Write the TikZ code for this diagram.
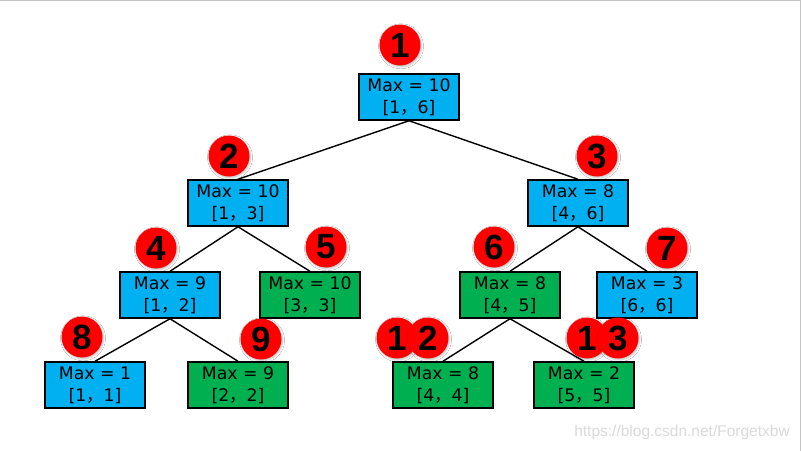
\documentclass[tikz,border=0pt]{standalone}
\usepackage{fontspec}
\setmainfont{Liberation Sans}
\newfontfamily\boxfont{DejaVu Sans}
\newfontfamily\cjk{Noto Sans CJK SC}
\newcommand{\fwc}{{\cjk ，}}
\usetikzlibrary{shadows.blur}
\definecolor{boxblue}{HTML}{00B0F0}
\definecolor{boxgreen}{HTML}{00B050}
\definecolor{badgered}{HTML}{FF0000}
\definecolor{wmgray}{HTML}{DADADA}
\definecolor{edgegray}{HTML}{C4C4C4}
\begin{document}
\begin{tikzpicture}[x=1pt,y=-1pt,
  segbox/.style={draw=black, line width=2pt, minimum width=100pt, minimum height=45.5pt,
    inner sep=0pt, align=center, font=\boxfont\fontsize{17.3}{22}\selectfont},
  bluebox/.style={segbox, fill=boxblue},
  greenbox/.style={segbox, fill=boxgreen},
  badge/.style={circle, fill=badgered, minimum size=41pt, inner sep=0pt,
    font=\fontsize{35}{35}\selectfont\bfseries,
    blur shadow={shadow xshift=1pt, shadow yshift=-1.3pt, shadow blur radius=2pt, shadow opacity=25}},
  link/.style={draw=black, line width=1.4pt},
  watermark/.style={text=wmgray, font=\fontsize{15.5}{17}\selectfont, inner sep=0pt},
  frameline/.style={draw=edgegray, line width=1.2pt}
]
\useasboundingbox (0,0) rectangle (801,451);
\fill[white] (0,0) rectangle (801,451);
\coordinate (tl) at (0,0.6);
\coordinate (tr) at (800.2,0.6);
\coordinate (br) at (800.2,451);
\draw[frameline] (tl) -- (tr) -- (br);

% boxes
\node[bluebox]  (n1)  at (409,97)  {Max = 10\\{[1\fwc 6]}};
\node[bluebox]  (n2)  at (238,203) {Max = 10\\{[1\fwc 3]}};
\node[bluebox]  (n3)  at (578,203) {Max = 8\\{[4\fwc 6]}};
\node[bluebox]  (n4)  at (170,295) {Max = 9\\{[1\fwc 2]}};
\node[greenbox] (n5)  at (310,295) {Max = 10\\{[3\fwc 3]}};
\node[greenbox] (n6)  at (510,295) {Max = 8\\{[4\fwc 5]}};
\node[bluebox]  (n7)  at (647,295) {Max = 3\\{[6\fwc 6]}};
\node[bluebox]  (n8)  at (95,385)  {Max = 1\\{[1\fwc 1]}};
\node[greenbox] (n9)  at (238,385) {Max = 9\\{[2\fwc 2]}};
\node[greenbox] (n12) at (443,385) {Max = 8\\{[4\fwc 4]}};
\node[greenbox] (n13) at (584,385) {Max = 2\\{[5\fwc 5]}};

% edges
\draw[link] (n1.south) -- (n2.north);
\draw[link] (n1.south) -- (n3.north);
\draw[link] (n2.south) -- (n4.north);
\draw[link] (n2.south) -- (n5.north);
\draw[link] (n3.south) -- (n6.north);
\draw[link] (n3.south) -- (n7.north);
\draw[link] (n4.south) -- (n8.north);
\draw[link] (n4.south) -- (n9.north);
\draw[link] (n6.south) -- (n12.north);
\draw[link] (n6.south) -- (n13.north);

% badges
\node[badge] (b1)  at (400,45)  {1};
\node[badge] (b2)  at (229,156) {2};
\node[badge] (b3)  at (597,156) {3};
\node[badge] (b4)  at (156,248) {4};
\node[badge] (b5)  at (326,247) {5};
\node[badge] (b6)  at (494,247) {6};
\node[badge] (b7)  at (667,248) {7};
\node[badge] (b8)  at (82,337)  {8};
\node[badge] (b9)  at (261,339) {9};
\node[badge] (b12a) at (397,338) {1};
\node[badge] (b12b) at (428,338) {2};
\node[badge] (b13a) at (587,338) {1};
\node[badge] (b13b) at (618,338) {3};

% watermark
\node[watermark] (wm) at (682,432) {https://blog.csdn.net/Forgetxbw};
\end{tikzpicture}
\end{document}
